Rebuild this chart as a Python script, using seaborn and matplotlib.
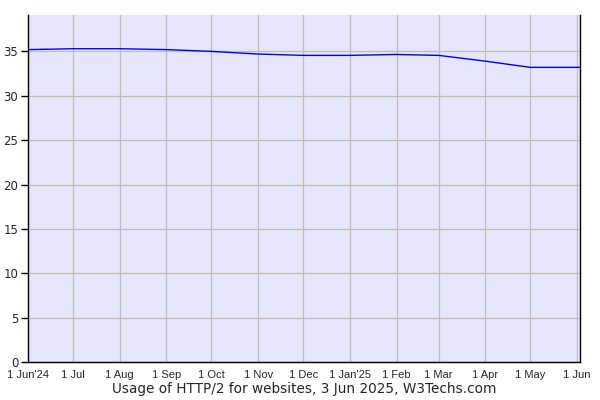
import pandas as pd
import seaborn as sns
import matplotlib
matplotlib.use("Agg")
import matplotlib.pyplot as plt

# monthly usage values (percent of websites)
dates = ["2024-06-01", "2024-07-01", "2024-08-01", "2024-09-01", "2024-10-01",
         "2024-11-01", "2024-12-01", "2025-01-01", "2025-02-01", "2025-03-01",
         "2025-04-01", "2025-05-01", "2025-06-03"]
usage = [35.2, 35.3, 35.3, 35.2, 35.0, 34.7, 34.55, 34.55, 34.65, 34.55, 33.9, 33.2, 33.2]

tick_dates = ["2024-06-01", "2024-07-01", "2024-08-01", "2024-09-01", "2024-10-01",
              "2024-11-01", "2024-12-01", "2025-01-01", "2025-02-01", "2025-03-01",
              "2025-04-01", "2025-05-01", "2025-06-01"]
tick_labels = ["1 Jun'24", "1 Jul", "1 Aug", "1 Sep", "1 Oct", "1 Nov", "1 Dec",
               "1 Jan'25", "1 Feb", "1 Mar", "1 Apr", "1 May", "1 Jun"]

df = pd.DataFrame({"date": pd.to_datetime(dates), "usage": usage})

sns.set_style("white")
plt.rcParams['font.family'] = ['DejaVu Sans']

fig = plt.figure(figsize=(6, 4), dpi=100)
ax = fig.add_axes([28 / 600, 38 / 400, 552 / 600, 347 / 400])
ax.set_facecolor("#e6e6fa")

sns.lineplot(data=df, x="date", y="usage", color="#0000ff", linewidth=1, ax=ax)

ax.set_xlim(pd.Timestamp("2024-06-01"), pd.Timestamp("2025-06-03"))
ax.set_ylim(0, 39.1)
ax.set_yticks(range(0, 40, 5))
ax.set_xticks(pd.to_datetime(tick_dates))
ax.set_xticklabels(tick_labels, family=["Liberation Sans", "DejaVu Sans"])

ax.grid(True, color="#bdbdbd", linewidth=0.9)
ax.set_axisbelow(True)

for side in ["left", "bottom", "right"]:
    ax.spines[side].set_visible(True)
    ax.spines[side].set_color("black")
    ax.spines[side].set_linewidth(1)
ax.spines["top"].set_visible(False)

ax.tick_params(axis="y", which="both", left=True, length=5, width=1, color="black",
               labelsize=8.5, pad=2)
ax.tick_params(axis="x", bottom=False, labelsize=8, pad=2)

ax.set_xlabel("Usage of HTTP/2 for websites, 3 Jun 2025, W3Techs.com", fontsize=9.8,
              labelpad=2)
ax.set_ylabel("")

fig.savefig("out.png", dpi=100)
